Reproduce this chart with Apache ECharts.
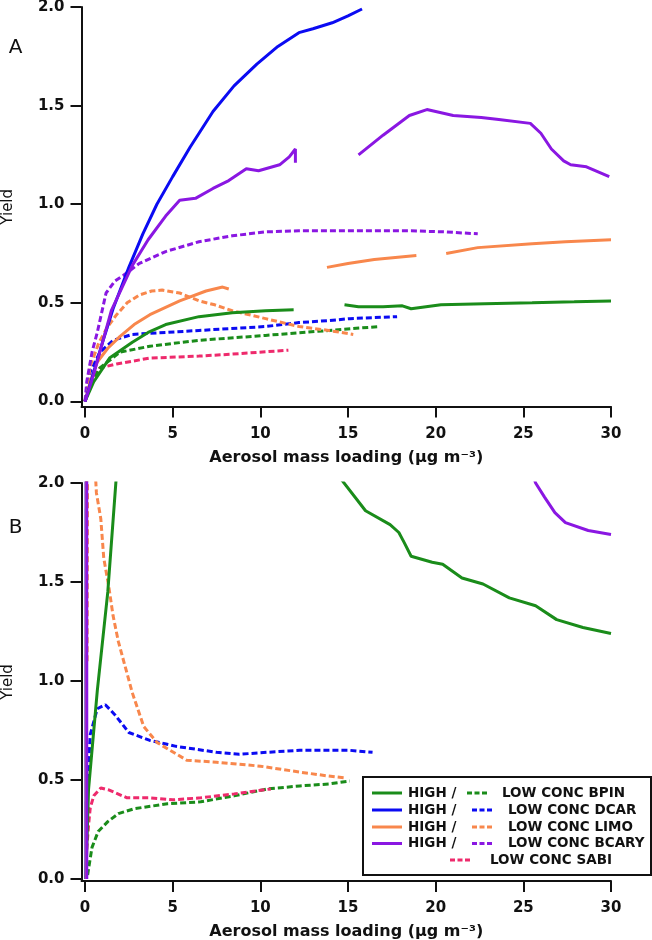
<!DOCTYPE html>
<html><head><meta charset="utf-8">
<script src="https://cdn.jsdelivr.net/npm/echarts@6/dist/echarts.min.js"></script>
<style>html,body{margin:0;padding:0;background:#fff}#c{width:652px;height:940px}</style>
</head><body><div id="c"></div>
<script>
// ---- tick labels ----
const xTicks = [0, 5, 10, 15, 20, 25, 30];
const yTicks = [0, 0.5, 1.0, 1.5, 2.0];
const xTitle = 'Aerosol mass loading (\u03BCg m\u207B\u00B3)';
const yTitle = 'Yield';

// ---- Panel A data [mass loading, yield] ----
const highDcarA = [[0,0],[0.5,0.15],[1,0.3],[1.6,0.47],[2.5,0.68],[3.3,0.85],[4.1,1.0],[5,1.14],[6,1.29],[7.3,1.47],[8.5,1.6],[9.8,1.71],[11,1.8],[12.2,1.87],[13,1.89],[14.1,1.92],[15,1.955],[15.8,1.99]];
const highBcaryA1 = [[0,0],[0.5,0.14],[1,0.3],[1.5,0.46],[2.7,0.69],[3.6,0.82],[4.6,0.94],[5.4,1.02],[6.3,1.03],[7.3,1.08],[8.2,1.12],[9.2,1.18],[9.9,1.17],[11.1,1.2],[11.65,1.24],[12,1.28],[12,1.21]];
const highBcaryA2 = [[15.6,1.25],[17,1.35],[18.5,1.45],[19.5,1.48],[21,1.45],[22.6,1.44],[23.6,1.43],[25.4,1.41],[26,1.36],[26.6,1.28],[27.3,1.22],[27.7,1.2],[28.6,1.19],[29.9,1.14]];
const lowBcaryA = [[0,0],[0.1,0.1],[0.4,0.25],[0.7,0.35],[1.2,0.55],[1.7,0.61],[2.2,0.64],[3.1,0.7],[4.6,0.76],[6.5,0.81],[8.4,0.84],[10.3,0.86],[12.2,0.865],[14,0.865],[16,0.865],[18.6,0.865],[20.5,0.86],[22.4,0.85]];
const highLimoA1 = [[0,0],[0.3,0.1],[0.7,0.2],[1.3,0.27],[2,0.33],[2.8,0.39],[3.7,0.44],[5.4,0.51],[6.9,0.56],[7.85,0.58],[8.2,0.57]];
const highLimoA2 = [[13.8,0.68],[15,0.7],[16.5,0.72],[18.9,0.74]];
const highLimoA3 = [[20.6,0.75],[22.4,0.78],[25.5,0.8],[27.4,0.81],[30,0.82]];
const lowLimoA = [[0,0],[0.3,0.18],[0.8,0.3],[1.3,0.38],[1.8,0.44],[2.4,0.5],[3.1,0.54],[3.8,0.56],[4.4,0.565],[5.4,0.55],[6.5,0.51],[7.4,0.49],[8.4,0.46],[10.3,0.42],[12.2,0.38],[13.9,0.36],[15.3,0.34]];
const highBpinA1 = [[0,0],[0.5,0.1],[1.4,0.22],[2.7,0.3],[3.6,0.35],[4.6,0.39],[6.5,0.43],[8.4,0.45],[10.3,0.46],[11.9,0.465]];
const highBpinA2 = [[14.8,0.49],[15.6,0.48],[17,0.48],[18.1,0.485],[18.6,0.47],[20.3,0.49],[22.8,0.495],[25.5,0.5],[27.9,0.505],[30,0.51]];
const lowBpinA = [[0,0],[0.3,0.08],[0.85,0.17],[2,0.25],[3.7,0.28],[6.5,0.31],[10.3,0.335],[13.9,0.36],[16.8,0.38]];
const lowDcarA = [[0,0],[0.3,0.15],[0.85,0.25],[1.6,0.31],[2.7,0.34],[6.5,0.36],[10.3,0.38],[12.2,0.4],[13.9,0.41],[15.1,0.42],[17.8,0.43]];
const lowSabiA = [[0,0],[0.3,0.1],[0.85,0.17],[1.8,0.19],[3.7,0.22],[6.5,0.23],[8.4,0.24],[11.6,0.26]];

// ---- Panel B data [mass loading, yield] ----
const highDcarB = [[0.05,0],[0.06,2.2]];
const highLimoB = [[0.07,0],[0.08,2.2]];
const highBcaryB1 = [[0.1,0],[0.1,2.2]];
const highBcaryB2 = [[25.5,2.05],[25.7,2.0],[26.2,1.93],[26.8,1.85],[27.4,1.8],[28.7,1.76],[30,1.74]];
const highBpinB1 = [[0.05,0],[0.2,0.45],[0.7,0.95],[1.3,1.45],[1.8,2.05]];
const highBpinB2 = [[14.6,2.02],[16,1.86],[17.4,1.79],[17.9,1.75],[18.2,1.7],[18.6,1.63],[19.8,1.6],[20.4,1.59],[21.5,1.52],[22.7,1.49],[24.2,1.42],[25.7,1.38],[26.9,1.31],[28.4,1.27],[30,1.24]];
const lowLimoB = [[0.12,1.1],[0.15,2.2],[0.5,2.2],[0.65,1.95],[0.9,1.82],[1.07,1.62],[1.35,1.48],[1.6,1.33],[1.9,1.2],[2.3,1.07],[2.7,0.94],[3.35,0.77],[4.1,0.69],[5.8,0.6],[7.5,0.59],[10,0.57],[12.25,0.54],[13.9,0.52],[14.9,0.51]];
const lowDcarB = [[0.15,0.5],[0.2,0.57],[0.3,0.73],[0.7,0.86],[1.16,0.88],[1.7,0.83],[2.5,0.74],[3.7,0.7],[5.2,0.67],[7.5,0.64],[8.8,0.63],[10.4,0.64],[12.25,0.65],[13.9,0.65],[15.1,0.65],[16.4,0.64]];
const lowSabiB = [[0.1,0.15],[0.2,0.27],[0.3,0.36],[0.5,0.42],[0.9,0.46],[1.35,0.45],[2.4,0.41],[3.7,0.41],[5,0.4],[6.6,0.41],[8.5,0.43],[10.6,0.455]];
const lowBpinB = [[0.15,0.02],[0.2,0.05],[0.4,0.16],[0.75,0.24],[1.3,0.29],[1.9,0.33],[2.8,0.355],[4.7,0.38],[6.6,0.39],[8.5,0.42],[10.4,0.455],[12.25,0.47],[13.9,0.48],[15.1,0.495]];

// ---- legend rows ----
const legendRows = ['LOW CONC BPIN', 'LOW CONC DCAR', 'LOW CONC LIMO', 'LOW CONC BCARY', 'LOW CONC SABI'];

const GREEN = '#1a8c1a', BLUE = '#0b0bf2', ORANGE = '#f8874c', PURPLE = '#8a17e2', PINK = '#ee2a6c';
const DASH = [6, 3];
const FONT = 'DejaVu Sans';
const INK = '#111';

function ser(name, data, color, dashed, gi, z) {
  return {
    name: name, type: 'line', data: data, xAxisIndex: gi, yAxisIndex: gi,
    showSymbol: false, symbol: 'none', clip: true, animation: false, z: z || 2,
    lineStyle: { color: color, width: 3, type: dashed ? DASH : 'solid', cap: 'butt' }
  };
}
function xAx(gi) {
  return {
    type: 'value', gridIndex: gi, min: -0.2, max: 30,
    name: xTitle, nameLocation: 'middle', nameGap: 43, nameMoveOverlap: false,
    nameTextStyle: { fontFamily: FONT, fontWeight: 'bold', fontSize: 16, color: INK },
    axisLine: { show: true, onZero: false, lineStyle: { color: INK, width: 2 } },
    axisTick: { show: true, inside: false, length: 11, customValues: xTicks, lineStyle: { color: INK, width: 2 } },
    axisLabel: { show: true, customValues: xTicks, margin: 20, fontFamily: FONT, fontSize: 15, fontWeight: 'bold', color: INK },
    splitLine: { show: false }
  };
}
function yAx(gi, mn) {
  return {
    type: 'value', gridIndex: gi, min: mn, max: 2.0,
    name: yTitle, nameLocation: 'middle', nameGap: 66, nameMoveOverlap: false,
    nameTextStyle: { fontFamily: FONT, fontSize: 15, color: INK },
    axisLine: { show: true, onZero: false, lineStyle: { color: INK, width: 2 } },
    axisTick: { show: true, inside: false, length: 11, customValues: yTicks, lineStyle: { color: INK, width: 2 } },
    axisLabel: { show: true, customValues: yTicks, margin: 17, fontFamily: FONT, fontSize: 15, fontWeight: 'bold', color: INK,
      formatter: v => Number(v).toFixed(1) },
    splitLine: { show: false }
  };
}

// legend graphic
const legendChildren = [];
const LX = 363, LY = 777;
legendChildren.push({ type: 'rect', shape: { x: LX, y: LY, width: 288, height: 98 }, style: { fill: '#fff', stroke: INK, lineWidth: 2 } });
const rowY = [793, 810, 827, 843.5, 860];
const rowColors = [GREEN, BLUE, ORANGE, PURPLE, PINK];
const tStyle = { fontFamily: FONT, fontWeight: 'bold', fontSize: 13.5, fill: INK, textVerticalAlign: 'middle', verticalAlign: 'middle' };
for (let i = 0; i < 5; i++) {
  const y = rowY[i];
  const isSabi = i === 4;
  if (!isSabi) {
    legendChildren.push({ type: 'line', shape: { x1: 372, y1: y, x2: 402, y2: y }, style: { stroke: rowColors[i], lineWidth: 3 } });
    legendChildren.push({ type: 'text', x: 408, y: y, style: Object.assign({ text: 'HIGH /' }, tStyle) });
  }
  const dx1 = isSabi ? 450 : (i === 0 ? 467 : 472);
  const tx = isSabi ? 490 : (i === 0 ? 502 : 508);
  legendChildren.push({ type: 'line', shape: { x1: dx1, y1: y, x2: dx1 + 20, y2: y }, style: { stroke: rowColors[i], lineWidth: 3, lineDash: [5, 2.5] } });
  legendChildren.push({ type: 'text', x: tx, y: y, style: Object.assign({ text: legendRows[i] }, tStyle) });
}

const option = {
  animation: false,
  backgroundColor: '#fff',
  grid: [
    { left: 81.5, right: 41, top: 7, bottom: 533.4, containLabel: false, outerBoundsMode: 'none' },
    { left: 81.5, right: 41, top: 483, bottom: 59, containLabel: false, outerBoundsMode: 'none' }
  ],
  xAxis: [xAx(0), xAx(1)],
  yAxis: [yAx(0, -0.026), yAx(1, -0.01)],
  series: [
    ser('LOW CONC SABI', lowSabiA, PINK, true, 0),
    ser('LOW CONC BPIN', lowBpinA, GREEN, true, 0),
    ser('LOW CONC DCAR', lowDcarA, BLUE, true, 0),
    ser('LOW CONC LIMO', lowLimoA, ORANGE, true, 0),
    ser('LOW CONC BCARY', lowBcaryA, PURPLE, true, 0),
    ser('HIGH BPIN', highBpinA1, GREEN, false, 0, 3),
    ser('HIGH BPIN', highBpinA2, GREEN, false, 0, 3),
    ser('HIGH LIMO', highLimoA1, ORANGE, false, 0, 3),
    ser('HIGH LIMO', highLimoA2, ORANGE, false, 0, 3),
    ser('HIGH LIMO', highLimoA3, ORANGE, false, 0, 3),
    ser('HIGH DCAR', highDcarA, BLUE, false, 0, 3),
    ser('HIGH BCARY', highBcaryA1, PURPLE, false, 0, 4),
    ser('HIGH BCARY', highBcaryA2, PURPLE, false, 0, 4),

    ser('LOW CONC BPIN', lowBpinB, GREEN, true, 1),
    ser('LOW CONC SABI', lowSabiB, PINK, true, 1),
    ser('LOW CONC DCAR', lowDcarB, BLUE, true, 1),
    ser('LOW CONC LIMO', lowLimoB, ORANGE, true, 1),
    ser('HIGH BPIN', highBpinB1, GREEN, false, 1, 3),
    ser('HIGH BPIN', highBpinB2, GREEN, false, 1, 3),
    ser('HIGH DCAR', highDcarB, BLUE, false, 1, 3),
    ser('HIGH LIMO', highLimoB, ORANGE, false, 1, 3),
    ser('HIGH BCARY', highBcaryB1, PURPLE, false, 1, 4),
    ser('HIGH BCARY', highBcaryB2, PURPLE, false, 1, 4)
  ],
  graphic: [
    { type: 'text', x: 15.5, y: 47.5, style: { text: 'A', fontFamily: FONT, fontSize: 20, fill: INK, align: 'center', verticalAlign: 'middle' } },
    { type: 'text', x: 15.5, y: 528, style: { text: 'B', fontFamily: FONT, fontSize: 20, fill: INK, align: 'center', verticalAlign: 'middle' } },
    { type: 'group', z: 100, children: legendChildren }
  ]
};
const chart = echarts.init(document.getElementById('c'), null, { renderer: 'canvas' });
chart.setOption(option);
</script>
</body></html>
